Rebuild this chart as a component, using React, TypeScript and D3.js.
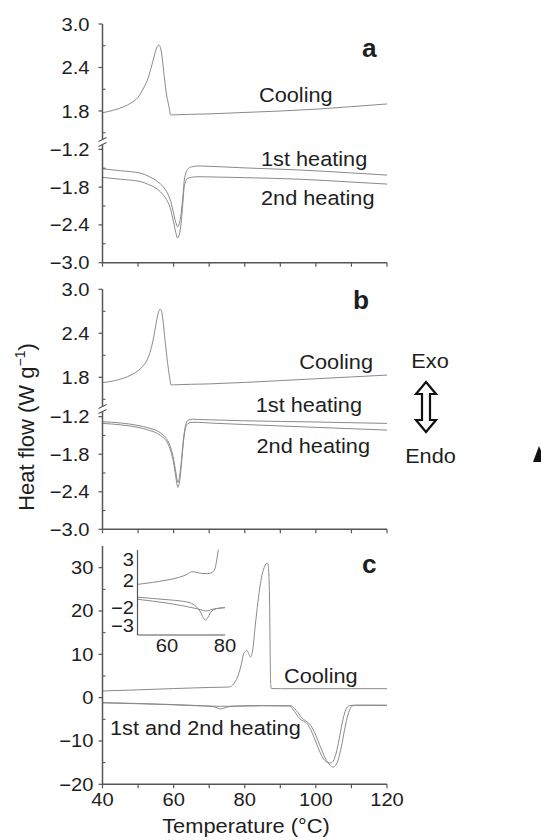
import React from "react";
import * as d3 from "d3";

// ---------- data ----------
const tempTicks = [40, 50, 60, 70, 80, 90, 100, 110, 120];
const tempLabels = [40, 60, 80, 100, 120];
const upperMajor = [3.0, 2.4, 1.8];
const upperMinor = [2.7, 2.1, 1.5];
const lowerMajor = [-1.2, -1.8, -2.4, -3.0];
const lowerMinor = [-1.5, -2.1, -2.7];
const cMajor = [30, 20, 10, 0, -10, -20];
const cMinor = [25, 15, 5, -5, -15];
const insetYUpTicks = [3, 2];
const insetYLoTicks = [-2, -3];
const insetXTicks = [60, 80];

// panel a
const aCoolT = [40, 43, 46, 48, 50, 51.7, 52.8, 53.7, 54.4, 55, 55.4, 55.8, 56.2, 56.6, 57.2, 57.9, 58.6, 59.2, 60, 70, 80, 90, 100, 110, 120];
const aCoolV = [1.776, 1.81, 1.86, 1.91, 1.99, 2.13, 2.25, 2.4, 2.53, 2.64, 2.69, 2.71, 2.69, 2.6, 2.35, 2.06, 1.88, 1.745, 1.747, 1.76, 1.78, 1.8, 1.825, 1.86, 1.897];
const aHeatT = [40, 45, 50.8, 53, 55.5, 57, 58.3, 59.2, 60, 60.6, 61.1, 61.6, 62.1, 62.6, 63, 63.9, 65, 66.8, 70, 80, 96, 110, 120];
const aHeat1V = [-1.509, -1.54, -1.58, -1.63, -1.714, -1.79, -1.9, -2.03, -2.216, -2.36, -2.43, -2.38, -2.22, -1.95, -1.69, -1.52, -1.48, -1.465, -1.47, -1.495, -1.53, -1.575, -1.609];
const aHeat2V = [-1.646, -1.675, -1.714, -1.76, -1.835, -1.92, -2.03, -2.16, -2.36, -2.52, -2.608, -2.55, -2.38, -2.05, -1.79, -1.66, -1.645, -1.635, -1.638, -1.65, -1.676, -1.72, -1.752];

// panel b
const bCoolT = [40, 43, 46, 48, 50, 51.5, 52.6, 53.6, 54.4, 55, 55.5, 55.9, 56.2, 56.6, 57, 57.6, 58.3, 58.8, 59.3, 60, 70, 80, 90, 100, 110, 120];
const bCoolV = [1.727, 1.75, 1.79, 1.83, 1.89, 1.96, 2.04, 2.18, 2.35, 2.52, 2.64, 2.71, 2.73, 2.7, 2.58, 2.3, 2.0, 1.82, 1.695, 1.697, 1.71, 1.73, 1.755, 1.78, 1.805, 1.83];
const bHeatT = [40, 45, 50, 53, 55.5, 57, 58.3, 59.2, 60, 60.6, 61.2, 61.7, 62.2, 62.7, 63.2, 64, 65.2, 67, 70, 80, 100, 120];
const bHeat1V = [-1.28, -1.3, -1.34, -1.38, -1.43, -1.49, -1.58, -1.7, -1.88, -2.08, -2.25, -2.15, -1.9, -1.6, -1.38, -1.26, -1.24, -1.245, -1.25, -1.265, -1.285, -1.307];
const bHeat2V = [-1.307, -1.33, -1.37, -1.415, -1.47, -1.53, -1.62, -1.75, -1.94, -2.16, -2.33, -2.22, -1.95, -1.63, -1.42, -1.31, -1.29, -1.29, -1.3, -1.325, -1.37, -1.414];

// panel c
const cCoolT = [40, 50, 60, 70, 75.5, 77, 78.3, 79, 79.7, 80.2, 80.6, 81.1, 81.6, 82.2, 83, 83.7, 84.4, 85, 85.6, 86, 86.3, 86.6, 86.8, 87.0, 87.15, 87.3, 87.5, 90, 100, 110, 120];
const cCoolV = [1.54, 1.8, 2.1, 2.35, 2.45, 3.3, 5.5, 7.6, 10.1, 10.7, 10.9, 10.2, 9.4, 10.8, 17, 22, 26.3, 28.8, 30.3, 30.9, 31.0, 30.5, 28, 21, 10, 3, 2.1, 2.07, 2.07, 2.07, 2.07];
const cHeat1T = [40, 50, 60, 66, 70, 71.5, 72.5, 73.3, 74.2, 75.5, 78, 85, 92.5, 93.5, 94.5, 95.5, 96.5, 97.5, 98.5, 99.5, 100.5, 101.5, 102.5, 103.3, 104.1, 104.9, 105.7, 106.5, 107.3, 108, 108.8, 109.5, 111, 115, 120];
const cHeat1V = [-1.15, -1.35, -1.6, -1.8, -1.95, -2.15, -2.45, -2.6, -2.4, -2.1, -1.95, -1.85, -1.9, -2.6, -3.8, -4.9, -5.4, -6.0, -7.3, -9.2, -11.3, -13.2, -14.5, -15.0, -15.1, -14.6, -12.8, -9.8, -6.3, -3.8, -2.2, -1.85, -1.75, -1.75, -1.77];
const cHeat2T = [40, 50, 60, 66, 70, 73, 76, 80, 85, 93, 94, 95, 96, 97, 98, 99, 100, 101, 102, 103, 104, 104.8, 105.6, 106.4, 107.2, 108, 108.8, 109.6, 110.3, 111.5, 115, 120];
const cHeat2V = [-1.2, -1.4, -1.65, -1.85, -1.95, -2.0, -1.97, -1.92, -1.85, -1.9, -2.5, -3.5, -4.6, -5.3, -5.9, -7.0, -8.7, -10.8, -12.8, -14.5, -15.6, -16.0, -15.6, -14.0, -11.2, -7.7, -4.6, -2.6, -1.9, -1.76, -1.76, -1.77];

// inset
const insCoolT = [50, 55, 60, 64, 67, 68.5, 70, 72, 74, 75.5, 76.5, 77, 77.4, 77.7];
const insCoolV = [1.83, 1.92, 2.03, 2.15, 2.3, 2.42, 2.4, 2.34, 2.33, 2.38, 2.55, 2.85, 3.2, 3.45];
const insHeatAT = [50, 55, 60, 65, 68, 70, 71.5, 72.5, 73.3, 74, 75, 76, 78, 80];
const insHeatAV = [-1.43, -1.5, -1.57, -1.65, -1.75, -1.95, -2.25, -2.6, -2.72, -2.6, -2.3, -2.15, -2.05, -2.02];
const insHeatBT = [50, 55, 60, 65, 68, 70, 72, 73, 74, 75, 76, 78, 80];
const insHeatBV = [-1.55, -1.65, -1.76, -1.9, -2.0, -2.07, -2.15, -2.2, -2.2, -2.15, -2.1, -2.05, -2.02];

// ---------- styles ----------
const FONT = "'Liberation Sans', Arial, Helvetica, sans-serif";
const AXIS = "#555";
const CURVE = "#8a8a8a";
const TXT = "#1e1e1e";
const TICK = 18;
const LAB = 20.5;

type TProps = {
  x: number; y: number; size?: number; anchor?: string; sx?: number; weight?: string | number; rotate?: number; children?: React.ReactNode;
};
function T({ x, y, size = TICK, anchor = "start", sx = 1.12, weight = "normal", rotate = 0, children }: TProps) {
  return (
    <text
      transform={`translate(${x},${y}) rotate(${rotate}) scale(${sx},1)`}
      fontSize={size}
      textAnchor={anchor as any}
      fontWeight={weight as any}
      fill={TXT}
      fontFamily={FONT}
    >
      {children}
    </text>
  );
}

const zip = (t: number[], v: number[]) => t.map((d, i) => [d, v[i]] as [number, number]);
const fmt = (v: number) => (v < 0 ? "\u2212" : "") + Math.abs(v).toFixed(1);
const fmtInt = (v: number) => (v < 0 ? "\u2212" : "") + Math.abs(v).toString();

function curvePath(x: d3.ScaleLinear<number, number>, y: d3.ScaleLinear<number, number>, t: number[], v: number[]) {
  const line = d3
    .line<[number, number]>()
    .x((d) => x(d[0]))
    .y((d) => y(d[1]))
    .curve(d3.curveMonotoneX);
  return line(zip(t, v)) || "";
}

const X0 = 102.5;
const X1 = 387;
const x = d3.scaleLinear().domain([40, 120]).range([X0, X1]);

type BrokenCfg = {
  yUp: d3.ScaleLinear<number, number>;
  yLo: d3.ScaleLinear<number, number>;
  breakY: number;
  top: number;
  bottom: number;
};

function BrokenPanel({ cfg, cool, heat1, heat2 }: { cfg: BrokenCfg; cool: [number[], number[]]; heat1: [number[], number[]]; heat2: [number[], number[]] }) {
  const { yUp, yLo, breakY, top, bottom } = cfg;
  return (
    <g>
      <path d={curvePath(x, yUp, cool[0], cool[1])} fill="none" stroke={CURVE} strokeWidth={1} />
      <path d={curvePath(x, yLo, heat1[0], heat1[1])} fill="none" stroke={CURVE} strokeWidth={1} />
      <path d={curvePath(x, yLo, heat2[0], heat2[1])} fill="none" stroke={CURVE} strokeWidth={1} />
      <line x1={X0} x2={X0} y1={top} y2={breakY - 2.5} stroke={AXIS} strokeWidth={1.5} />
      <line x1={X0} x2={X0} y1={breakY + 2.5} y2={bottom} stroke={AXIS} strokeWidth={1.5} />
      <line x1={X0 - 4} x2={X0 + 4} y1={breakY - 0.5} y2={breakY - 4.5} stroke={AXIS} strokeWidth={1.2} />
      <line x1={X0 - 4} x2={X0 + 4} y1={breakY + 4.5} y2={breakY + 0.5} stroke={AXIS} strokeWidth={1.2} />
      {upperMajor.map((v) => (
        <g key={"um" + v}>
          <line x1={X0 - 4} x2={X0} y1={yUp(v)} y2={yUp(v)} stroke={AXIS} strokeWidth={1.2} />
          <T x={X0 - 13} y={yUp(v) + 6.5} anchor="end">{fmt(v)}</T>
        </g>
      ))}
      {upperMinor.map((v) => (
        <line key={"un" + v} x1={X0} x2={X0 + 3} y1={yUp(v)} y2={yUp(v)} stroke={AXIS} strokeWidth={1.1} />
      ))}
      {lowerMajor.map((v) => (
        <g key={"lm" + v}>
          <line x1={X0 - 4} x2={X0} y1={yLo(v)} y2={yLo(v)} stroke={AXIS} strokeWidth={1.2} />
          <T x={X0 - 13} y={yLo(v) + 6.5} anchor="end">{fmt(v)}</T>
        </g>
      ))}
      {lowerMinor.map((v) => (
        <line key={"ln" + v} x1={X0} x2={X0 + 3} y1={yLo(v)} y2={yLo(v)} stroke={AXIS} strokeWidth={1.1} />
      ))}
      <line x1={X0} x2={X1} y1={bottom} y2={bottom} stroke={AXIS} strokeWidth={1.5} />
      {tempTicks.map((t) => (
        <line key={"xt" + t} x1={x(t)} x2={x(t)} y1={bottom} y2={bottom + 4} stroke={AXIS} strokeWidth={1.2} />
      ))}
    </g>
  );
}

export default function App() {
  const aCfg: BrokenCfg = {
    yUp: d3.scaleLinear().domain([1.8, 3.0]).range([111, 24]),
    yLo: d3.scaleLinear().domain([-3.0, -1.2]).range([262.7, 149.3]),
    breakY: 142,
    top: 24,
    bottom: 262.7,
  };
  const bCfg: BrokenCfg = {
    yUp: d3.scaleLinear().domain([1.8, 3.0]).range([377.3, 289.3]),
    yLo: d3.scaleLinear().domain([-3.0, -1.2]).range([529.3, 416.7]),
    breakY: 409,
    top: 289.3,
    bottom: 529.3,
  };
  const yC = d3.scaleLinear().domain([-20, 35]).range([784.3, 546]);
  const cBottom = yC(-20);

  const ix = d3.scaleLinear().domain([50, 80]).range([138, 225]);
  const iyUp = d3.scaleLinear().domain([2, 3]).range([580.7, 559.3]);
  const iyLo = d3.scaleLinear().domain([-3, -2]).range([625, 607.3]);

  const ax = 426;
  const aTop = 382, aBot = 432, hw = 10, sw = 4, hh = 12;
  const arrowPts = [
    [ax, aTop], [ax + hw, aTop + hh], [ax + sw, aTop + hh], [ax + sw, aBot - hh], [ax + hw, aBot - hh],
    [ax, aBot], [ax - hw, aBot - hh], [ax - sw, aBot - hh], [ax - sw, aTop + hh], [ax - hw, aTop + hh],
  ].map((p) => p.join(",")).join(" ");

  return (
    <svg width={541} height={840} style={{ position: "absolute", left: 0, top: 0, background: "#fff" }}>
      <rect x={0} y={0} width={541} height={840} fill="#fff" />
      {/* panel a */}
      <BrokenPanel cfg={aCfg} cool={[aCoolT, aCoolV]} heat1={[aHeatT, aHeat1V]} heat2={[aHeatT, aHeat2V]} />
      <T x={362} y={57} size={25} weight="bold" sx={1.05}>a</T>
      <T x={259} y={102} size={LAB} sx={1.06}>Cooling</T>
      <T x={261} y={166} size={LAB} sx={1.06}>1st heating</T>
      <T x={261} y={205} size={LAB} sx={1.06}>2nd heating</T>

      {/* panel b */}
      <BrokenPanel cfg={bCfg} cool={[bCoolT, bCoolV]} heat1={[bHeatT, bHeat1V]} heat2={[bHeatT, bHeat2V]} />
      <T x={353} y={309} size={25} weight="bold" sx={1.05}>b</T>
      <T x={373} y={369} size={LAB} sx={1.06} anchor="end">Cooling</T>
      <T x={362} y={411.5} size={LAB} sx={1.06} anchor="end">1st heating</T>
      <T x={370} y={453} size={LAB} sx={1.06} anchor="end">2nd heating</T>

      {/* exo / endo */}
      <T x={430} y={368} size={LAB} sx={1.06} anchor="middle">Exo</T>
      <T x={430.5} y={463} size={LAB} sx={1.06} anchor="middle">Endo</T>
      <polygon points={arrowPts} fill="#fff" stroke="#111" strokeWidth={2.2} strokeLinejoin="miter" />
      <polygon points="539,446 533,462 546,462" fill="#111" />

      {/* panel c */}
      <path d={curvePath(x, yC, cCoolT, cCoolV)} fill="none" stroke={CURVE} strokeWidth={1} />
      <path d={curvePath(x, yC, cHeat1T, cHeat1V)} fill="none" stroke={CURVE} strokeWidth={1} />
      <path d={curvePath(x, yC, cHeat2T, cHeat2V)} fill="none" stroke={CURVE} strokeWidth={1} />
      <line x1={X0} x2={X0} y1={546} y2={cBottom} stroke={AXIS} strokeWidth={1.5} />
      <line x1={X0} x2={X1} y1={cBottom} y2={cBottom} stroke={AXIS} strokeWidth={1.5} />
      {cMajor.map((v) => (
        <g key={"cm" + v}>
          <line x1={X0 - 4} x2={X0} y1={yC(v)} y2={yC(v)} stroke={AXIS} strokeWidth={1.2} />
          <T x={X0 - 9} y={yC(v) + 6.5} anchor="end">{fmtInt(v)}</T>
        </g>
      ))}
      {cMinor.map((v) => (
        <line key={"cn" + v} x1={X0} x2={X0 + 3} y1={yC(v)} y2={yC(v)} stroke={AXIS} strokeWidth={1.1} />
      ))}
      {tempTicks.map((t) => (
        <line key={"cx" + t} x1={x(t)} x2={x(t)} y1={cBottom} y2={cBottom + 4} stroke={AXIS} strokeWidth={1.2} />
      ))}
      {tempLabels.map((t) => (
        <T key={"cl" + t} x={x(t)} y={806} anchor="middle">{t}</T>
      ))}
      <T x={362} y={573} size={25} weight="bold" sx={1.05}>c</T>
      <T x={284} y={683} size={LAB} sx={1.06}>Cooling</T>
      <T x={110} y={735} size={LAB} sx={1.06}>1st and 2nd heating</T>

      {/* inset */}
      <path d={curvePath(ix, iyUp, insCoolT, insCoolV)} fill="none" stroke={CURVE} strokeWidth={1} />
      <path d={curvePath(ix, iyLo, insHeatAT, insHeatAV)} fill="none" stroke={CURVE} strokeWidth={1} />
      <path d={curvePath(ix, iyLo, insHeatBT, insHeatBV)} fill="none" stroke={CURVE} strokeWidth={1} />
      <line x1={137.5} x2={137.5} y1={550} y2={635} stroke={AXIS} strokeWidth={1.2} />
      <line x1={137.5} x2={225} y1={635} y2={635} stroke={AXIS} strokeWidth={1.2} />
      {insetYUpTicks.map((v) => (
        <T key={"iu" + v} x={134} y={iyUp(v) + 6.5} anchor="end">{fmtInt(v)}</T>
      ))}
      {insetYLoTicks.map((v) => (
        <T key={"il" + v} x={134} y={iyLo(v) + 6.5} anchor="end">{fmtInt(v)}</T>
      ))}
      {insetXTicks.map((t) => (
        <T key={"ix" + t} x={ix(t)} y={652} anchor="middle">{t}</T>
      ))}

      {/* axis titles */}
      <T x={246} y={833} size={21} sx={1.04} anchor="middle">Temperature (°C)</T>
      <text transform="translate(34,427) rotate(-90)" fontSize={22} textAnchor="middle" fill={TXT} fontFamily={FONT}>
        Heat flow (W g
        <tspan dy={-9} fontSize={14}>−1</tspan>
        <tspan dy={9}>)</tspan>
      </text>
    </svg>
  );
}
